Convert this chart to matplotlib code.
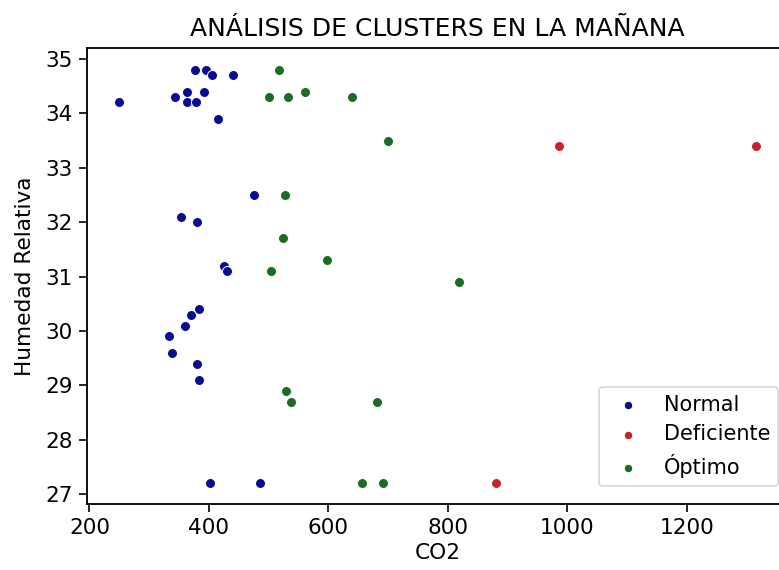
import matplotlib
matplotlib.use("Agg")
import matplotlib.pyplot as plt

# CO2 (ppm) and relative humidity (%) per cluster, morning readings
normal_co2 = [249, 343, 363, 391, 377, 395, 406, 440, 364, 378, 416,
              475, 353, 380, 426, 430, 384, 370, 360, 334, 339, 380, 384,
              401, 485]
normal_hum = [34.2, 34.3, 34.4, 34.4, 34.8, 34.8, 34.7, 34.7, 34.2, 34.2, 33.9,
              32.5, 32.1, 32.0, 31.2, 31.1, 30.4, 30.3, 30.1, 29.9, 29.6, 29.4, 29.1,
              27.2, 27.2]

deficiente_co2 = [986, 1316, 881]
deficiente_hum = [33.4, 33.4, 27.2]

optimo_co2 = [517, 500, 532, 560, 640, 699, 528, 524, 597, 504, 818,
              529, 538, 681, 656, 692]
optimo_hum = [34.8, 34.3, 34.3, 34.4, 34.3, 33.5, 32.5, 31.7, 31.3, 31.1, 30.9,
              28.9, 28.7, 28.7, 27.2, 27.2]

groups = [
    ("Normal", normal_co2, normal_hum, "#0b0b8f"),
    ("Deficiente", deficiente_co2, deficiente_hum, "#c8232b"),
    ("Óptimo", optimo_co2, optimo_hum, "#1c6b22"),
]

W, H, DPI = 779, 570, 120
fig = plt.figure(figsize=(W / DPI, H / DPI), dpi=DPI)
ax = fig.add_axes([87 / W, 1 - 504 / H, (788 - 87) / W, (504 - 47.5) / H])

for label, xs, ys, color in groups:
    ax.scatter(xs, ys, s=36, color=color, edgecolors="white", linewidths=0.6,
               label=label, zorder=3)

ax.set_xlim(196, 1369)
ax.set_ylim(26.82, 35.21)
ax.set_xticks([200, 400, 600, 800, 1000, 1200])
ax.set_yticks([27, 28, 29, 30, 31, 32, 33, 34, 35])
ax.tick_params(labelsize=13, length=5, width=1.0)
for sp in ax.spines.values():
    sp.set_linewidth(1.1)

ax.set_title("ANÁLISIS DE CLUSTERS EN LA MAÑANA", fontsize=15, pad=7)
ax.set_xlabel("CO2", fontsize=13, labelpad=3)
ax.set_ylabel("Humedad Relativa", fontsize=13, labelpad=6)

ax.legend(loc="lower right", bbox_to_anchor=(0.9863, 0.0395), borderaxespad=0,
          markerscale=0.85, handletextpad=0.7, fontsize=12.5, labelspacing=0.45)

fig.savefig("out.png", dpi=DPI)
